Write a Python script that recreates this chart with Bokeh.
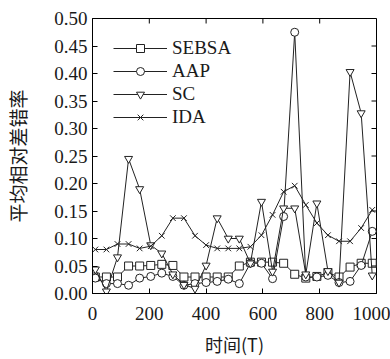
import math
from bokeh.plotting import figure
from bokeh.models import Range1d, FixedTicker, Legend, LegendItem, CustomJSTickFormatter
from bokeh.embed import file_html
from bokeh.resources import INLINE

# time samples (T)
t = [10, 49, 88, 127, 166, 205, 244, 283, 322, 361, 400, 439, 478, 517,
     556, 595, 634, 673, 712, 751, 790, 829, 868, 907, 946, 985]

sebsa = [0.030, 0.030, 0.030, 0.050, 0.050, 0.051, 0.053, 0.051, 0.030, 0.030,
         0.030, 0.030, 0.030, 0.050, 0.057, 0.057, 0.057, 0.055, 0.035, 0.028,
         0.031, 0.038, 0.030, 0.048, 0.055, 0.055]
aap = [0.028, 0.018, 0.018, 0.015, 0.028, 0.031, 0.037, 0.031, 0.015, 0.018,
       0.020, 0.022, 0.026, 0.018, 0.055, 0.055, 0.027, 0.140, 0.475, 0.030,
       0.030, 0.033, 0.020, 0.022, 0.051, 0.113]
sc = [0.044, 0.004, 0.066, 0.245, 0.190, 0.088, 0.073, 0.035, 0.016, 0.009,
      0.051, 0.137, 0.100, 0.100, 0.055, 0.167, 0.040, 0.155, 0.155, 0.035,
      0.164, 0.041, 0.020, 0.403, 0.328, 0.033]
ida = [0.080, 0.080, 0.090, 0.090, 0.082, 0.086, 0.105, 0.137, 0.137, 0.105,
       0.088, 0.082, 0.082, 0.082, 0.085, 0.106, 0.143, 0.185, 0.196, 0.161,
       0.128, 0.106, 0.095, 0.095, 0.119, 0.152]

series = [("SEBSA", sebsa, "square"), ("AAP", aap, "circle"),
          ("SC", sc, "inverted_triangle"), ("IDA", ida, "x")]

x_ticks = [0, 200, 400, 600, 800, 1000]
y_ticks = [0.00, 0.05, 0.10, 0.15, 0.20, 0.25, 0.30, 0.35, 0.40, 0.45, 0.50]
x_min, x_max = 0, 1000
y_min, y_max = 0.0, 0.5

SERIF = "Liberation Serif"
CJK = "Noto Sans CJK SC"
TXT = "#1a1a1a"

p = figure(width=390, height=359, output_backend="svg", toolbar_location=None,
           x_range=Range1d(x_min, x_max), y_range=Range1d(y_min, y_max),
           min_border_left=92, min_border_right=14, min_border_top=18,
           min_border_bottom=66)
p.background_fill_color = "white"
p.border_fill_color = "white"
p.outline_line_color = "black"
p.outline_line_width = 1
p.xgrid.visible = False
p.ygrid.visible = False

items = []
for name, vals, marker in series:
    ln = p.line(t, vals, line_color="#222222", line_width=1)
    mk = p.scatter(t, vals, marker=marker, size=8, line_color="#222222",
                   fill_color="white", line_width=1)
    items.append(LegendItem(label=name, renderers=[ln, mk]))

legend = Legend(items=items, location=(21, 165), padding=0, margin=0,
                spacing=1, glyph_width=54, glyph_height=20, label_height=20,
                label_standoff=5, background_fill_alpha=0, border_line_alpha=0,
                label_text_font=SERIF, label_text_font_size="19px",
                label_text_color=TXT)
p.add_layout(legend)

for ax in (p.xaxis[0], p.yaxis[0]):
    ax.major_label_text_font = SERIF
    ax.major_label_text_font_size = "19px"
    ax.major_label_text_color = TXT
    ax.major_tick_in = 5
    ax.major_tick_out = 0
    ax.minor_tick_in = 0
    ax.minor_tick_out = 0
    ax.axis_line_color = "black"
    ax.axis_label_text_font = CJK
    ax.axis_label_text_font_style = "normal"
    ax.axis_label_text_color = TXT

p.xaxis[0].axis_label_text_font_size = "18px"
p.yaxis[0].axis_label_text_font_size = "19px"
p.xaxis[0].ticker = FixedTicker(ticks=x_ticks)
p.yaxis[0].ticker = FixedTicker(ticks=y_ticks)
p.yaxis[0].formatter = CustomJSTickFormatter(code="return tick.toFixed(2);")
p.xaxis[0].major_label_standoff = 13
p.yaxis[0].major_label_standoff = 5
p.xaxis[0].axis_label = "时间(T)"
p.yaxis[0].axis_label = "平均相对差错率"
p.xaxis[0].axis_label_standoff = 8
p.yaxis[0].axis_label_standoff = 20

# mirrored inward ticks along the top and right edges of the frame
p.ray(x=x_ticks, y=[y_max] * len(x_ticks), length=5, length_units="screen",
      angle=-math.pi / 2, line_color="black", line_width=1)
p.ray(x=[x_max] * len(y_ticks), y=y_ticks, length=5, length_units="screen",
      angle=math.pi, line_color="black", line_width=1)

open("out.html", "w").write(file_html(p, INLINE))
